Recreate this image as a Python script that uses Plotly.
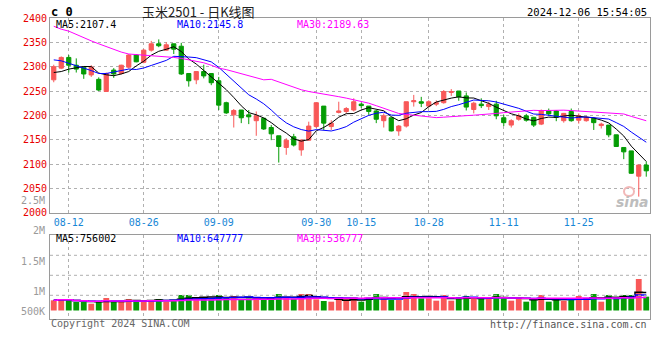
import plotly.graph_objects as go
import numpy as np
import pandas as pd

# ---------------- data ----------------
opens = [2273, 2297, 2319, 2303, 2299, 2283, 2274, 2249, 2293, 2286,
         2299, 2324, 2309, 2334, 2347, 2334, 2347, 2342, 2286, 2273,
         2290, 2286, 2271, 2226, 2201, 2211, 2201, 2189, 2194, 2175,
         2158, 2134, 2156, 2129, 2149, 2177, 2219, 2177, 2206, 2208,
         2211, 2223, 2219, 2209, 2189, 2195, 2168, 2178, 2228, 2228,
         2219, 2223, 2226, 2247, 2250, 2240, 2212, 2223, 2218, 2223,
         2195, 2180, 2192, 2199, 2196, 2182, 2209, 2209, 2189, 2208,
         2190, 2189, 2194, 2179, 2180, 2160, 2134, 2127, 2075, 2098]
highs = [2304, 2321, 2324, 2317, 2300, 2303, 2278, 2288, 2297, 2304,
         2326, 2326, 2336, 2353, 2356, 2350, 2347, 2349, 2287, 2290,
         2304, 2287, 2279, 2228, 2213, 2211, 2211, 2208, 2195, 2180,
         2158, 2153, 2162, 2151, 2187, 2226, 2219, 2190, 2228, 2217,
         2235, 2226, 2219, 2211, 2204, 2195, 2180, 2228, 2242, 2238,
         2231, 2231, 2252, 2254, 2250, 2247, 2228, 2235, 2228, 2230,
         2201, 2192, 2204, 2203, 2197, 2212, 2214, 2211, 2205, 2214,
         2204, 2199, 2196, 2185, 2180, 2160, 2134, 2127, 2098, 2105]
lows = [2268, 2295, 2288, 2288, 2275, 2279, 2250, 2248, 2277, 2284,
        2296, 2309, 2307, 2331, 2340, 2333, 2326, 2283, 2259, 2264,
        2276, 2262, 2211, 2203, 2175, 2184, 2182, 2158, 2170, 2149,
        2103, 2119, 2136, 2117, 2148, 2174, 2170, 2170, 2204, 2204,
        2208, 2215, 2201, 2184, 2175, 2167, 2158, 2175, 2218, 2217,
        2216, 2219, 2224, 2240, 2230, 2210, 2204, 2215, 2211, 2192,
        2178, 2175, 2189, 2187, 2176, 2180, 2199, 2188, 2185, 2187,
        2183, 2187, 2170, 2173, 2155, 2136, 2110, 2080, 2033, 2074]
closes = [2300, 2319, 2303, 2295, 2285, 2299, 2252, 2286, 2285, 2303,
          2324, 2310, 2334, 2347, 2343, 2345, 2336, 2285, 2271, 2290,
          2281, 2267, 2221, 2205, 2210, 2195, 2197, 2199, 2172, 2162,
          2136, 2149, 2139, 2149, 2178, 2226, 2184, 2184, 2209, 2214,
          2228, 2220, 2208, 2192, 2199, 2168, 2178, 2228, 2230, 2225,
          2228, 2226, 2249, 2249, 2238, 2217, 2225, 2220, 2223, 2199,
          2185, 2189, 2199, 2190, 2180, 2210, 2203, 2196, 2204, 2189,
          2199, 2196, 2185, 2182, 2160, 2136, 2125, 2081, 2098, 2086]
volumes = [423000, 477000, 423000, 353000, 353000, 282000, 382000, 519000, 353000, 353000,
           477000, 353000, 436000, 436000, 477000, 366000, 436000, 643000, 643000, 546000,
           505000, 463000, 643000, 533000, 602000, 477000, 505000, 519000, 477000, 533000,
           685000, 546000, 491000, 685000, 685000, 463000, 394000, 366000, 436000, 463000,
           546000, 366000, 533000, 685000, 546000, 436000, 436000, 768000, 685000, 505000,
           505000, 408000, 643000, 408000, 505000, 602000, 505000, 477000, 505000, 685000,
           505000, 408000, 505000, 366000, 436000, 643000, 366000, 436000, 408000, 505000,
           602000, 436000, 685000, 366000, 643000, 574000, 643000, 643000, 1307000, 574000]

ma5_head = [2288, 2290, 2295, 2298]
ma10_head = [2314, 2312, 2307, 2302, 2298, 2292, 2286, 2286, 2289]
ma30_head = [2383, 2377, 2373, 2366, 2360, 2353, 2347, 2341, 2336, 2330,
             2326, 2325, 2324, 2323, 2321, 2320, 2319, 2317, 2314, 2311,
             2308, 2303, 2297, 2294, 2290, 2286, 2282, 2278, 2273]

date_idx = [2, 12, 22, 35, 41, 50, 60, 70]
date_labels = ["08-12", "08-26", "09-09", "09-30", "10-15", "10-28", "11-11", "11-25"]
price_ticks = [2000, 2050, 2100, 2150, 2200, 2250, 2300, 2350, 2400]
vol_tick_labels = ["2.5M", "2M", "1.5M", "1M", "500K"]
price_ma_labels = ["MA5:2107.4", "MA10:2145.8", "MA30:2189.63"]
vol_ma_labels = ["MA5:756002", "MA10:647777", "MA30:536777"]
title_text = "玉米2501 - 日K线图"
time_text = "2024-12-06 15:54:05"

# ---------------- derived ----------------
n = len(closes)
idx = list(range(n))
cs = pd.Series(closes, dtype=float)


def ma(series, w, head):
    m = series.rolling(w).mean().tolist()
    return [head[i] if i < len(head) else m[i] for i in range(len(m))]


ma5 = ma(cs, 5, ma5_head)
ma10 = ma(cs, 10, ma10_head)
ma30 = ma(cs, 30, ma30_head)
vs = pd.Series(volumes, dtype=float)
vma5 = vs.rolling(5, min_periods=1).mean()
vma10 = vs.rolling(10, min_periods=1).mean()
vma30 = vs.rolling(30, min_periods=1).mean()

RED = "#f85858"
GREEN = "#049c04"
bar_colors = [RED if c >= o else GREEN for o, c in zip(opens, closes)]

MONO = "DejaVu Sans Mono"

fig = go.Figure()
fig.add_trace(go.Candlestick(
    x=idx, open=opens, high=highs, low=lows, close=closes,
    increasing=dict(line=dict(color=RED, width=1), fillcolor=RED),
    decreasing=dict(line=dict(color=GREEN, width=1), fillcolor=GREEN),
    whiskerwidth=0, xaxis="x", yaxis="y", hoverinfo="skip"))
for vals, col in [(ma5, "#000000"), (ma10, "#0000ff"), (ma30, "#ff00ff")]:
    fig.add_trace(go.Scatter(x=idx, y=vals, mode="lines",
                             line=dict(color=col, width=1),
                             xaxis="x", yaxis="y", hoverinfo="skip"))

fig.add_trace(go.Bar(x=idx, y=volumes, marker=dict(color=bar_colors, line=dict(width=0)),
                     width=0.78, xaxis="x2", yaxis="y2", hoverinfo="skip"))
for vals, col in [(vma5, "#000000"), (vma10, "#0000ff"), (vma30, "#ff00ff")]:
    fig.add_trace(go.Scatter(x=idx, y=vals, mode="lines",
                             line=dict(color=col, width=1.5, shape="hvh"),
                             xaxis="x2", yaxis="y2", hoverinfo="skip"))

# geometry (pixels) -> paper
PT, PB = 18, 319
H = PB - PT


def py(p):
    return (PB - p) / H


def px(p):
    return (p - 50) / 600


grid = dict(showgrid=True, gridcolor="#b0b0b0", griddash="dot", gridwidth=1)
frame = dict(showline=True, linecolor="#9a9a9a", linewidth=1, mirror=True,
             zeroline=False, automargin=False)

fig.update_layout(
    width=660, height=360,
    margin=dict(l=50, r=10, t=PT, b=360 - PB, autoexpand=False),
    paper_bgcolor="white", plot_bgcolor="white",
    showlegend=False, hovermode=False, boxgap=0.2, bargap=0.2,
    font=dict(family=MONO, size=10, color="#000"),
    xaxis=dict(domain=[0, 1], anchor="y", range=[-0.5, n - 0.5],
               tickmode="array", tickvals=date_idx, ticktext=date_labels,
               tickfont=dict(family=MONO, size=10, color="#1787d6"),
               ticks="", rangeslider=dict(visible=False), **grid, **frame),
    yaxis=dict(domain=[py(212.7), 1], range=[2000, 2400],
               tickmode="array", tickvals=price_ticks,
               tickfont=dict(family=MONO, size=10, color="#e80000"),
               ticks="", **grid, **frame),
    xaxis2=dict(domain=[0, 1], anchor="y2", matches="x", range=[-0.5, n - 0.5],
                tickmode="array", tickvals=date_idx, showticklabels=False,
                ticks="", **grid, **frame),
    yaxis2=dict(domain=[0, py(234.7)], range=[-352750, 3145700],
                showticklabels=False, showgrid=False, ticks="", **frame),
)

# horizontal dotted grid in volume panel
for yy in [255.3, 275.3, 295.3]:
    fig.add_shape(type="line", xref="x2 domain", yref="paper",
                  x0=0, x1=1, y0=py(yy), y1=py(yy),
                  line=dict(color="#b0b0b0", width=1, dash="dot"))
# small eye logo of the watermark
fig.add_shape(type="circle", xref="paper", yref="paper",
              x0=px(624), x1=px(634), y0=py(196), y1=py(187),
              line=dict(color="#f2b8b8", width=2))

ann = []
ann.append(dict(text="<b>c 0</b>", x=px(49), y=py(11.5), xanchor="left",
                font=dict(family=MONO, size=12, color="#000")))
ann.append(dict(text=title_text, x=px(198), y=py(11.5), xanchor="center",
                font=dict(family="Noto Sans CJK SC", size=13, color="#222")))
ann.append(dict(text=time_text, x=px(649), y=py(12.5), xanchor="right",
                font=dict(family=MONO, size=10.5, color="#000")))
ma_cols = ["#000000", "#0000ff", "#ff00ff"]
ma_x = [54, 174.5, 295]
for t, c, xx in zip(price_ma_labels, ma_cols, ma_x):
    ann.append(dict(text=t, x=px(xx), y=py(24), xanchor="left",
                    font=dict(family=MONO, size=10, color=c)))
for t, c, xx in zip(vol_ma_labels, ma_cols, ma_x):
    ann.append(dict(text=t, x=px(xx), y=py(238), xanchor="left",
                    font=dict(family=MONO, size=10, color=c)))
vol_label_y = [200, 230.5, 261, 291, 311]
for t, yy in zip(vol_tick_labels, vol_label_y):
    ann.append(dict(text=t, x=px(47), y=py(yy), xanchor="right",
                    font=dict(family=MONO, size=10, color="#9a9a9a")))
ann.append(dict(text="Copyright 2024 SINA.COM", x=px(49), y=py(323.5), xanchor="left",
                font=dict(family=MONO, size=10, color="#666")))
ann.append(dict(text="http://finance.sina.com.cn", x=px(649), y=py(324.5), xanchor="right",
                font=dict(family=MONO, size=10, color="#555")))
ann.append(dict(text="<b><i>sina</i></b>", x=px(651), y=py(202), xanchor="right",
                font=dict(family="DejaVu Sans", size=14, color="#bdbdbd")))
for a in ann:
    a.update(xref="paper", yref="paper", showarrow=False, yanchor="middle")
fig.update_layout(annotations=ann)

fig.write_html("out.html", config={"displayModeBar": False},
               post_script="document.body.style.margin='0';document.body.style.padding='0';")
